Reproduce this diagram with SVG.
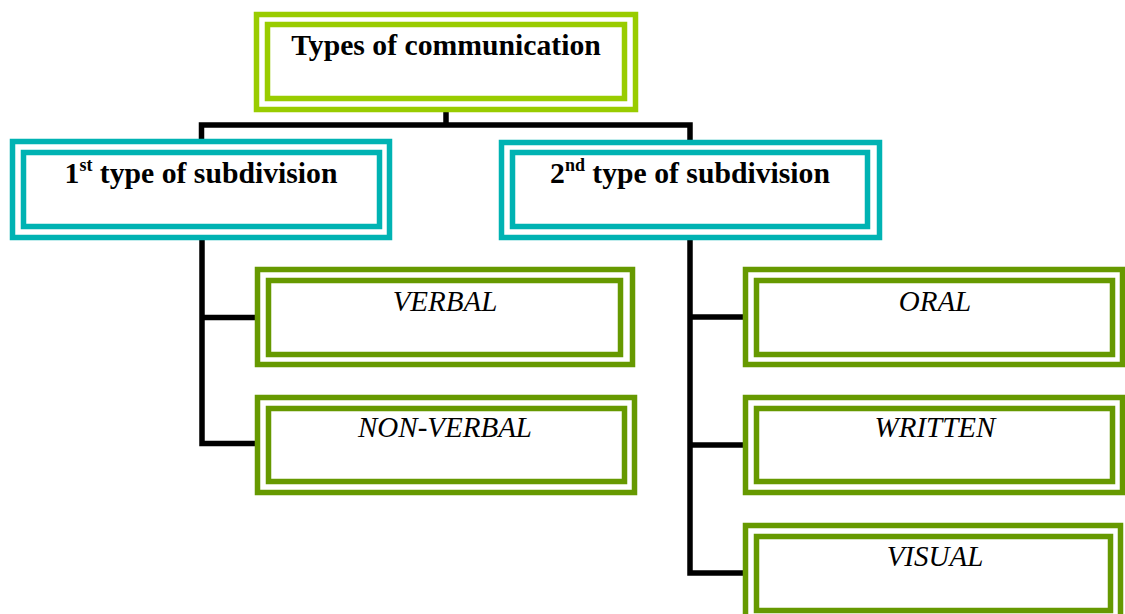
<svg xmlns="http://www.w3.org/2000/svg" width="1125" height="614" viewBox="0 0 1125 614">
<style>
.frame{fill:none;stroke-width:5.5}
.lime{stroke:#99CC00}
.teal{stroke:#00B3B3}
.green{stroke:#669900}
.title{font-family:"Liberation Serif","Times New Roman",serif;font-weight:bold;font-size:29.7px;fill:#000;text-anchor:middle}
.item{font-family:"Liberation Serif","Times New Roman",serif;font-style:italic;font-size:29px;fill:#000;text-anchor:middle}
.conn{fill:none;stroke:#000;stroke-width:5.5;stroke-linejoin:miter;stroke-linecap:butt}
</style>
<rect width="1125" height="614" fill="#fff"/>
<g id="connectors">
<path class="conn" d="M446,112 V125"/>
<path class="conn" d="M201.5,140 V125 H690 V140"/>
<path class="conn" d="M202,240 V443.5 H256"/>
<path class="conn" d="M202,317.5 H256"/>
<path class="conn" d="M690,240 V573 H744"/>
<path class="conn" d="M690,317 H744"/>
<path class="conn" d="M690,445 H744"/>
</g>
<g id="types">
<rect class="frame lime" x="256.5" y="14.5" width="379" height="95"/>
<rect class="frame lime" x="267.5" y="24.5" width="357" height="74"/>
<text class="title" x="446" y="55">Types of communication</text>
</g>
<g id="sub1">
<rect class="frame teal" x="12.5" y="141.5" width="377" height="96"/>
<rect class="frame teal" x="23.5" y="152.5" width="356" height="74"/>
<text class="title" x="201" y="183">1<tspan font-size="18" dy="-12">st</tspan><tspan dy="12"> type of subdivision</tspan></text>
</g>
<g id="sub2">
<rect class="frame teal" x="501.5" y="142.5" width="378" height="95"/>
<rect class="frame teal" x="512.5" y="152.5" width="355" height="74"/>
<text class="title" x="690" y="183">2<tspan font-size="18" dy="-12">nd</tspan><tspan dy="12"> type of subdivision</tspan></text>
</g>
<g id="verbal">
<rect class="frame green" x="257.5" y="269.5" width="375" height="95"/>
<rect class="frame green" x="268.5" y="280.5" width="352" height="74"/>
<text class="item" x="445" y="311">VERBAL</text>
</g>
<g id="nonverbal">
<rect class="frame green" x="257.5" y="397.5" width="377" height="95"/>
<rect class="frame green" x="268.5" y="408.5" width="356" height="73"/>
<text class="item" x="445" y="437">NON-VERBAL</text>
</g>
<g id="oral">
<rect class="frame green" x="745.5" y="269.5" width="377" height="95"/>
<rect class="frame green" x="756.5" y="280.5" width="356" height="74"/>
<text class="item" x="935" y="311">ORAL</text>
</g>
<g id="written">
<rect class="frame green" x="745.5" y="397.5" width="377" height="95"/>
<rect class="frame green" x="756.5" y="408.5" width="356" height="73"/>
<text class="item" x="935" y="437">WRITTEN</text>
</g>
<g id="visual">
<rect class="frame green" x="745.5" y="525.5" width="375" height="95"/>
<rect class="frame green" x="756.5" y="536.5" width="354" height="74"/>
<text class="item" x="935" y="566">VISUAL</text>
</g>
</svg>
